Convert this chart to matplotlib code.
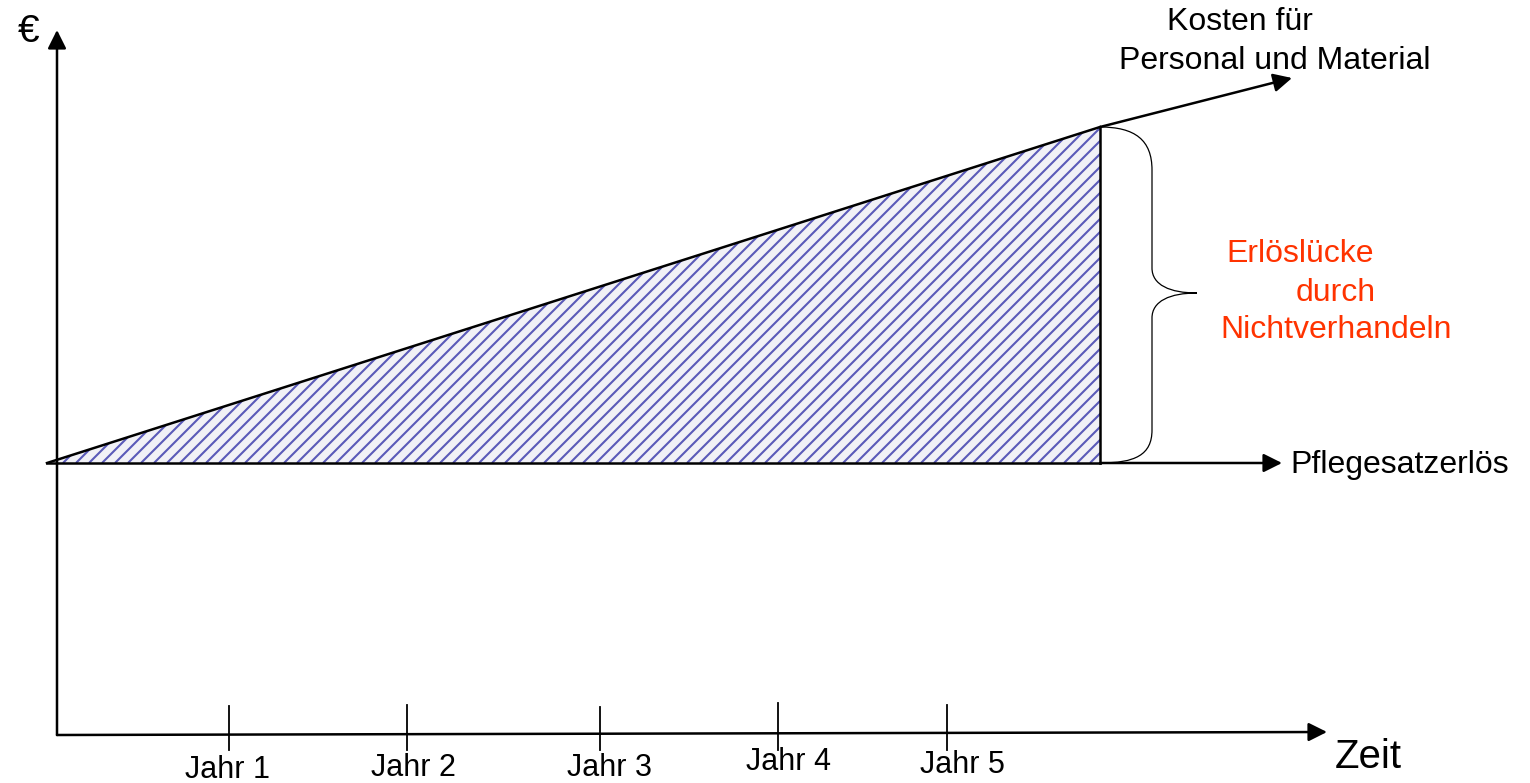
import numpy as np
import matplotlib.pyplot as plt
from matplotlib.path import Path
from matplotlib.patches import PathPatch, Polygon

plt.rcParams['font.family'] = ['Liberation Sans', 'DejaVu Sans']

# schematic in picture coordinates (x right, y down)
origin = (57, 735)
x_axis_tip = (1327, 732)
y_axis_tip = (57, 30)

year_labels = ['Jahr 1', 'Jahr 2', 'Jahr 3', 'Jahr 4', 'Jahr 5']
year_x = [229, 407, 600, 778, 947]
year_tick_top = [706, 705, 707, 703, 705]
year_label_x = [228, 413, 610, 789, 962]
year_label_y = [770, 768, 768, 762, 765]

# cost line (rising) and revenue line (flat)
start_x, end_x = 47, 1100
revenue_y = 463
cost_y = [463, 127]
cost_arrow_tip = (1292, 78)
revenue_arrow_tip = (1282, 463)

fig = plt.figure(figsize=(15.3, 7.83), dpi=100)
ax = fig.add_axes([0, 0, 1, 1])
ax.set_xlim(0, 1530)
ax.set_ylim(783, 0)
ax.axis('off')

# hatched gap: light fill plus diagonal blue lines clipped to the triangle
tri = Polygon([(start_x, revenue_y), (end_x, cost_y[1]), (end_x, revenue_y)],
              closed=True, facecolor='#f1f1f6', edgecolor='none')
ax.add_patch(tri)
step = 13
for x0 in np.arange(start_x - 400, end_x + 20, step):
    ln, = ax.plot([x0, x0 + 400], [revenue_y, revenue_y - 400], color='#5a5ab8', lw=1.5,
                  solid_capstyle='butt')
    ln.set_clip_path(tri)

ax.plot([start_x, end_x], cost_y, color='k', lw=1.8)
ax.plot([start_x, end_x], [revenue_y, revenue_y], color='k', lw=1.8)
ax.plot([end_x, end_x], cost_y, color='k', lw=1.8)

arrow = dict(arrowstyle='-|>', mutation_scale=28, lw=1.8, color='k', shrinkA=0, shrinkB=0)
ax.annotate('', xy=cost_arrow_tip, xytext=(end_x, cost_y[1]), arrowprops=arrow)
ax.annotate('', xy=revenue_arrow_tip, xytext=(end_x, revenue_y), arrowprops=arrow)
ax.annotate('', xy=x_axis_tip, xytext=origin, arrowprops=arrow)
ax.annotate('', xy=y_axis_tip, xytext=origin, arrowprops=arrow)

# year ticks
for x, t, lab, lx, ly in zip(year_x, year_tick_top, year_labels, year_label_x, year_label_y):
    ax.plot([x, x], [t, 750], color='k', lw=1.3)
    ax.text(lx, ly, lab, ha='center', va='center', fontsize=22)

# curly brace
top, bot, tip_y = cost_y[1], revenue_y, 293
bx, tx = 1152, 1197
verts = [(end_x, top), (1135, top), (bx, 140), (bx, 170),
         (bx, 268),
         (bx, 285), (1170, tip_y), (tx, tip_y),
         (1170, tip_y), (bx, 301), (bx, 318),
         (bx, 430),
         (bx, 455), (1135, bot), (end_x, bot)]
codes = [Path.MOVETO, Path.CURVE4, Path.CURVE4, Path.CURVE4,
         Path.LINETO,
         Path.CURVE4, Path.CURVE4, Path.CURVE4,
         Path.CURVE4, Path.CURVE4, Path.CURVE4,
         Path.LINETO,
         Path.CURVE4, Path.CURVE4, Path.CURVE4]
ax.add_patch(PathPatch(Path(verts, codes), fill=False, lw=0.9, color='k'))

# texts
ax.text(29, 32, '€', ha='center', va='center', fontsize=28)
ax.text(1368, 757, 'Zeit', ha='center', va='center', fontsize=29)
ax.text(1240, 22, 'Kosten für', ha='center', va='center', fontsize=23)
ax.text(1275, 61, 'Personal und Material', ha='center', va='center', fontsize=23)
ax.text(1290, 465, 'Pflegesatzerlös', ha='left', va='center', fontsize=23)
red = '#ff3300'
ax.text(1300, 254, 'Erlöslücke', ha='center', va='center', fontsize=23, color=red)
ax.text(1336, 293, 'durch', ha='center', va='center', fontsize=23, color=red)
ax.text(1336, 330, 'Nichtverhandeln', ha='center', va='center', fontsize=23, color=red)

fig.savefig('out.png', dpi=100)
